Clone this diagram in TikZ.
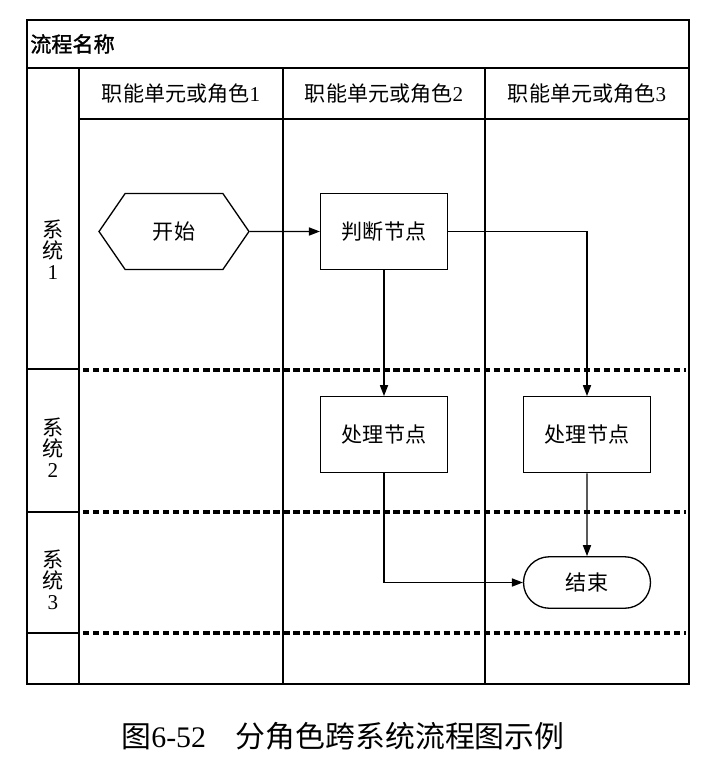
\documentclass[tikz,border=0pt]{standalone}
\usepackage{fontspec}
\setmainfont{Liberation Serif}
\newfontfamily\cjk{Noto Sans CJK SC}
\newfontfamily\cjkb{Noto Sans CJK SC}[FakeBold=1.5]
\usetikzlibrary{arrows.meta,shapes.symbols,shapes.misc,positioning}

\begin{document}
\begin{tikzpicture}[x=0.02cm, y=-0.02cm,
    frame/.style={line width=0.85pt},
    sep/.style={line width=1.9pt, dash pattern=on 3.6pt off 2.1pt},
    box/.style={draw, line width=0.75pt, minimum width=2.54cm, minimum height=1.52cm, inner sep=0pt, font=\cjk\fontsize{12}{14}\selectfont},
    hexa/.style={draw, line width=0.75pt, shape=signal, signal to=west and east, signal pointer angle=111, minimum width=3cm, minimum height=1.52cm, inner sep=0pt, font=\cjk\fontsize{12}{14}\selectfont},
    term/.style={draw, line width=0.75pt, rounded rectangle, minimum width=2.54cm, minimum height=1.03cm, inner sep=0pt, font=\cjk\fontsize{12}{14}\selectfont},
    arr/.style={-{Triangle[length=6.2pt, width=4.6pt]}, line width=0.75pt},
    head/.style={font=\fontsize{12}{14}\selectfont},
    lane/.style={align=center, font=\fontsize{12}{12}\selectfont}
]
\path[fill=white, use as bounding box] (0,0) rectangle (718,768);

% frame and lanes
\draw[frame] (27,20) rectangle (689,684);
\draw[frame] (27,68) -- (689,68);
\draw[frame] (79,119) -- (689,119);
\draw[frame] (79,68) -- (79,684);
\draw[frame] (283,68) -- (283,684);
\draw[frame] (485,68) -- (485,684);
\draw[frame] (27,369) -- (79,369);
\draw[frame] (27,512) -- (79,512);
\draw[frame] (27,633) -- (79,633);
\draw[sep] (83,370) -- (686,370);
\draw[sep] (83,512) -- (686,512);
\draw[sep] (83,633) -- (686,633);

% titles
\node[anchor=west, inner sep=0pt, font=\fontsize{12}{14}\selectfont] (title) at (30,44) {{\cjkb 流程名称}};
\node[head] (role1) at (181,94) {{\cjk 职能单元或角色}1};
\node[head] (role2) at (384,94) {{\cjk 职能单元或角色}2};
\node[head] (role3) at (587,94) {{\cjk 职能单元或角色}3};
\node[lane] (sys1) at (53,250) {{\cjk 系}\\{\cjk 统}\\1};
\node[lane] (sys2) at (53,448) {{\cjk 系}\\{\cjk 统}\\2};
\node[lane] (sys3) at (53,580) {{\cjk 系}\\{\cjk 统}\\3};

% flow
\node[hexa] (start) at (174,231.5) {开始};
\node[box] (judge) at (384,231.5) {判断节点};
\node[box] (proc2) at (384,434.7) {处理节点};
\node[box] (proc3) at (587,434.7) {处理节点};
\node[term] (stop) at (587,582.5) {结束};

\draw[arr] (start) -- (judge);
\draw[arr] (judge) -- (proc2);
\draw[arr] (judge.east) -| (proc3.north);
\draw[arr] (proc3) -- (stop);
\draw[arr] (proc2.south) |- (stop.west);

\node[font=\fontsize{17}{19}\selectfont] (caption) at (343,736) {{\cjk 图}6-52\hspace{1em}{\cjk 分角色跨系统流程图示例}};
\end{tikzpicture}
\end{document}
